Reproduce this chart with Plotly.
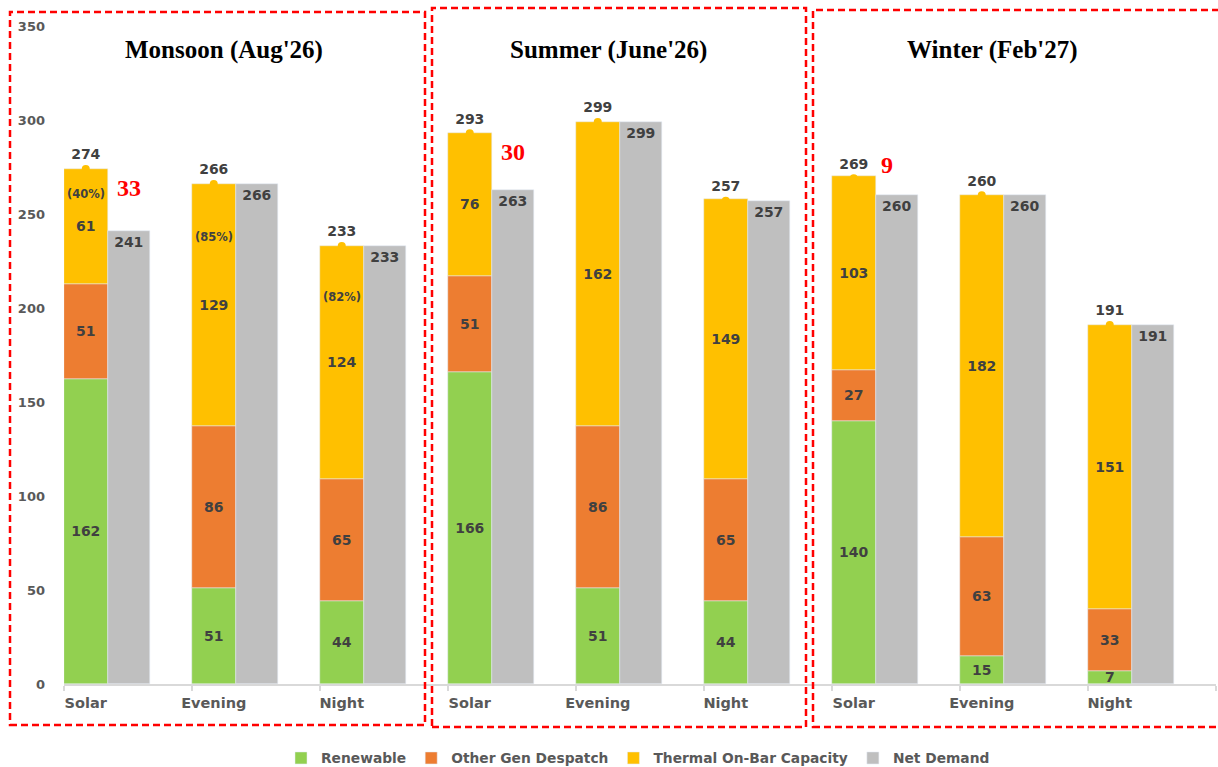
import numpy as np
import plotly.graph_objects as go

seasons = ["Monsoon (Aug'26)", "Summer (June'26)", "Winter (Feb'27)"]
periods = ["Solar", "Evening", "Night"]
renewable = [162, 51, 44, 166, 51, 44, 140, 15, 7]
other_gen = [51, 86, 65, 51, 86, 65, 27, 63, 33]
thermal = [61, 129, 124, 76, 162, 149, 103, 182, 151]
totals = [274, 266, 233, 293, 299, 257, 269, 260, 191]
net_demand = [241, 266, 233, 263, 299, 257, 260, 260, 191]
thermal_pct = ["(40%)", "(85%)", "(82%)", "", "", "", "", "", ""]

GREEN, ORANGE, YELLOW, GREY = "#92D050", "#ED7D31", "#FFC000", "#BFBFBF"
TXT = "#404040"
AX = "#595959"
SANS = "DejaVu Sans"
SERIF = "Liberation Serif"

n = len(renewable)
idx = np.arange(n)
labels = periods * len(seasons)
ren = np.array(renewable)
oth = np.array(other_gen)
thm = np.array(thermal)

SW = 0.34      # stacked bar width (category units)
SOFF = -0.5
GOFF = SOFF + SW
GW = 0.335
sx = idx + SOFF + SW / 2   # stacked bar centres

fig = go.Figure()
seg_font = dict(family=SANS, size=14, color=TXT, weight="bold")

fig.add_trace(go.Bar(x=idx, y=ren, base=0, name="Renewable", marker_color=GREEN,
                     offset=SOFF, width=SW, text=ren, textposition="inside",
                     insidetextanchor="middle", textangle=0, textfont=seg_font,
                     hoverinfo="y"))
fig.add_trace(go.Bar(x=idx, y=oth, base=ren, name="Other Gen Despatch", marker_color=ORANGE,
                     offset=SOFF, width=SW, text=oth, textposition="inside",
                     insidetextanchor="middle", textangle=0, textfont=seg_font,
                     hoverinfo="y"))
fig.add_trace(go.Bar(x=idx, y=thm, base=ren + oth, name="Thermal On-Bar Capacity",
                     marker_color=YELLOW, offset=SOFF, width=SW, text=thm,
                     textposition="inside", insidetextanchor="middle", textangle=0,
                     textfont=seg_font, hoverinfo="y"))
fig.add_trace(go.Bar(x=idx, y=net_demand, base=0, name="Net Demand", marker_color=GREY,
                     offset=GOFF, width=GW, text=net_demand, textposition="inside",
                     insidetextanchor="end", textangle=0, textfont=seg_font,
                     hoverinfo="y"))
fig.add_trace(go.Scatter(x=sx, y=totals, mode="markers+text", text=[str(t) for t in totals],
                         textposition="top center",
                         textfont=dict(family=SANS, size=14, color=TXT, weight="bold"),
                         marker=dict(color=YELLOW, size=8), showlegend=False,
                         hoverinfo="skip"))

annotations = []
# thermal share labels
for i in range(n):
    if thermal_pct[i]:
        annotations.append(dict(x=sx[i], y=ren[i] + oth[i] + 0.78 * thm[i], text=thermal_pct[i],
                                showarrow=False, xref="x", yref="y",
                                font=dict(family=SANS, size=11.5, color=TXT, weight="bold")))
# gap labels (total - net demand) on solar period
for g in range(len(seasons)):
    i = g * 3
    gap = totals[i] - net_demand[i]
    big = gap > 15
    annotations.append(dict(x=idx[i] + GOFF + GW / 2 - (0 if big else 0.08), y=totals[i],
                            text=str(gap), showarrow=False, xref="x", yref="y",
                            yanchor="top" if big else "bottom", yshift=-4 if big else -2,
                            font=dict(family=SERIF, size=24, color="#FF0000",
                                      weight="bold")))
# season titles
for g, s in enumerate(seasons):
    annotations.append(dict(x=g * 3 + 1 - 0.25, y=337, text=s, showarrow=False,
                            xref="x", yref="y",
                            font=dict(family=SERIF, size=25, color="#000000",
                                      weight="bold")))

# dashed boxes (pixel geometry -> paper)
L, R, T, B = 64, 1216, 26, 684
def px(xp): return (xp - L) / (R - L)
def py(yp): return (B - yp) / (B - T)
shapes = []
for (x0, y0, x1, y1) in [(10, 12, 425, 725), (432, 8, 806, 727), (813, 10, 1224, 727)]:
    shapes.append(dict(type="rect", xref="paper", yref="paper", x0=px(x0), x1=px(x1),
                       y0=py(y1), y1=py(y0),
                       line=dict(color="#FF0000", width=2.5, dash="7px,4px")))

fig.update_layout(
    width=1218, height=767,
    margin=dict(l=L, r=1218 - R, t=T, b=767 - B, autoexpand=False),
    paper_bgcolor="white", plot_bgcolor="white",
    barmode="overlay", bargap=0,
    annotations=annotations, shapes=shapes,
    showlegend=True,
    legend=dict(orientation="h", x=px(281), xanchor="left", y=py(758), yanchor="middle",
                font=dict(family=SANS, size=13.8, color=AX, weight="bold"),
                itemwidth=30, traceorder="normal", bgcolor="rgba(0,0,0,0)"),
    xaxis=dict(range=[-0.5, n - 0.5], tickmode="array", tickvals=sx, ticktext=labels,
               ticks="", showgrid=False, zeroline=False, showline=True,
               linecolor="#D9D9D9", linewidth=1.5, ticklabelstandoff=5,
               tickfont=dict(family=SANS, size=14.5, color=AX, weight="bold"),
               minor=dict(tickmode="array", tickvals=list(idx - 0.5) + [n - 0.5],
                          ticks="outside", ticklen=5, tickcolor="#D9D9D9", tickwidth=1.5)),
    yaxis=dict(range=[0, 350], tickvals=list(range(0, 351, 50)), showgrid=False,
               zeroline=False, showline=False, ticks="", ticklabelstandoff=18,
               tickfont=dict(family=SANS, size=13, color=AX, weight="bold")),
    uniformtext=dict(minsize=14, mode="show"),
)

fig.write_html("out.html", config={"displayModeBar": False},
               post_script="document.body.style.margin='0';document.body.style.overflow='hidden';")
